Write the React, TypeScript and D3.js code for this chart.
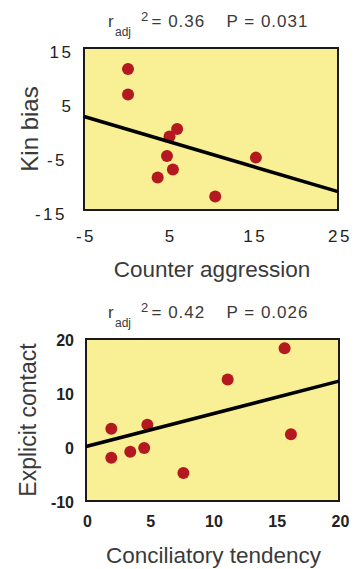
import React from 'react';
import * as d3 from 'd3';

// Panel A: counter aggression vs kin bias
const aggression = [0.2, 0.2, 6.0, 5.1, 4.8, 5.5, 3.7, 15.3, 10.5];
const kinBias = [11.1, 6.4, 0.0, -1.4, -5.0, -7.5, -9.0, -5.3, -12.5];
const kinFitX = [-5, 25];
const kinFitY = [2.3, -11.6];
const aggrTicks = [-5, 5, 15, 25];
const kinTicks = [-15, -5, 5, 15];

// Panel B: conciliatory tendency vs explicit contact
const conciliatory = [15.7, 11.2, 16.2, 4.85, 2.0, 2.0, 3.5, 4.6, 7.7];
const contact = [18.3, 12.5, 2.35, 4.1, 3.4, -2.0, -0.9, -0.2, -4.8];
const contactFitX = [0, 20];
const contactFitY = [0.1, 12.2];
const concTicks = [0, 5, 10, 15, 20];
const contactTicks = [-10, 0, 10, 20];

const FONT = '"Liberation Sans", Arial, Helvetica, sans-serif';
const YELLOW = '#f9ef95';
const DOT = '#b3191e';

type PanelProps = {
  top: number;
  left: number;
  right: number;
  bottom: number;
  xDomain: [number, number];
  yDomain: [number, number];
  xs: number[];
  ys: number[];
  fitX: number[];
  fitY: number[];
  xTicks: number[];
  yTicks: number[];
  r2: string;
  p: string;
  xLabel: string;
  yLabel: string;
  bold: boolean;
};

const Panel: React.FC<PanelProps> = (props) => {
  const { top, left, right, bottom, xs, ys, fitX, fitY } = props;
  const x = d3.scaleLinear().domain(props.xDomain).range([left, right]);
  const y = d3.scaleLinear().domain(props.yDomain).range([bottom, top]);
  const line = d3.line<number>().x((d) => x(d)).y((d, i) => y(fitY[i]));
  const tickStyle = props.bold
    ? { fontSize: 16, fontWeight: 700, letterSpacing: 0 }
    : { fontSize: 17, fontWeight: 400, letterSpacing: 2.5 };
  const midY = (top + bottom) / 2;
  const midX = (left + right) / 2;
  const tTop = top - 21; // title baseline

  return (
    <g fontFamily={FONT}>
      {/* title */}
      <g fill="#3a3a3a">
        <text x={108} y={tTop} fontSize={17}>r</text>
        <text x={115} y={tTop + 9} fontSize={12}>adj</text>
        <text x={141} y={tTop - 6} fontSize={13}>2</text>
        <text x={151.5} y={tTop} fontSize={17} letterSpacing={1}>{`= ${props.r2}`}</text>
        <text x={226.5} y={tTop} fontSize={17} letterSpacing={1}>{`P = ${props.p}`}</text>
      </g>

      <rect x={left} y={top} width={right - left} height={bottom - top} fill={YELLOW} stroke="#1a1a1a" strokeWidth={2} />

      {xs.map((d, i) => (
        <circle key={i} cx={x(d)} cy={y(ys[i])} r={6} fill={DOT} />
      ))}

      <path d={line(fitX) || ''} stroke="#000" strokeWidth={3.6} fill="none" />

      {/* y tick labels */}
      {props.yTicks.map((t) => (
        <text
          key={'y' + t}
          x={props.bold ? left - 12 : left - (t < 0 ? 17 : 10.5)}
          y={y(t) + (props.bold ? 7 : 10)}
          textAnchor="end"
          fill="#222"
          style={tickStyle}
        >
          {t}
        </text>
      ))}

      {/* x tick labels */}
      {props.xTicks.map((t) => (
        <text
          key={'x' + t}
          x={x(t) + (props.bold ? 1.5 : 2)}
          y={bottom + (props.bold ? 25.7 : 31.7)}
          textAnchor="middle"
          fill="#222"
          style={tickStyle}
        >
          {t}
        </text>
      ))}

      <text x={midX + 1} y={bottom + (props.bold ? 61.5 : 67)} textAnchor="middle" fontSize={22.5} fill="#3a3a3a">
        {props.xLabel}
      </text>
      <text
        transform={`translate(${props.bold ? 36 : 38},${midY}) rotate(-90)`}
        textAnchor="middle"
        fontSize={props.bold ? 23 : 24}
        fill="#3a3a3a"
      >
        {props.yLabel}
      </text>
    </g>
  );
};

const App: React.FC = () => {
  return (
    <svg
      width={357}
      height={569}
      style={{ position: 'absolute', left: 0, top: 0, background: '#fff' }}
    >
      <Panel
        top={48}
        left={84}
        right={338}
        bottom={210}
        xDomain={[-5, 25]}
        yDomain={[-15, 15]}
        xs={aggression}
        ys={kinBias}
        fitX={kinFitX}
        fitY={kinFitY}
        xTicks={aggrTicks}
        yTicks={kinTicks}
        r2="0.36"
        p="0.031"
        xLabel="Counter aggression"
        yLabel="Kin bias"
        bold={false}
      />
      <Panel
        top={339}
        left={86}
        right={339}
        bottom={501}
        xDomain={[0, 20]}
        yDomain={[-10, 20]}
        xs={conciliatory}
        ys={contact}
        fitX={contactFitX}
        fitY={contactFitY}
        xTicks={concTicks}
        yTicks={contactTicks}
        r2="0.42"
        p="0.026"
        xLabel="Conciliatory tendency"
        yLabel="Explicit contact"
        bold={true}
      />
    </svg>
  );
};

export default App;
